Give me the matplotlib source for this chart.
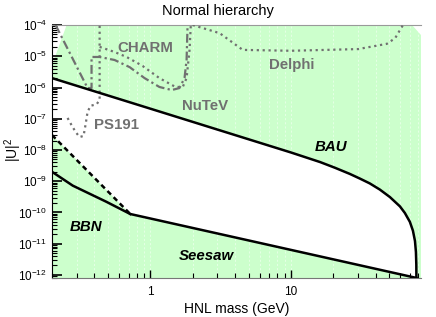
import numpy as np
import matplotlib
matplotlib.use("Agg")
import matplotlib.pyplot as plt
from matplotlib.ticker import LogLocator, FixedLocator, FixedFormatter, NullFormatter

plt.rcParams['font.family'] = ['Liberation Sans', 'DejaVu Sans']

## BAU upper bound (GeV, |U|^2)
bau_m = [0.2, 1.0, 10, 16.1, 20.5, 26.2, 30.8, 36.3, 42.8, 50.5, 59.5, 64.5, 70.0,
         73.6, 76.1, 77.3, 77.8, 77.9]
bau_u = [2.0e-6, 2.1e-7, 8.3e-9, 4.1e-9, 2.7e-9, 1.71e-9, 1.22e-9, 8.5e-10, 5.4e-10,
         3.1e-10, 1.56e-10, 9.6e-11, 5.0e-11, 2.6e-11, 1.22e-11, 5.4e-12, 2.1e-12, 8.0e-13]

## BBN lines
bbn_m = [0.2, 0.281, 0.486, 0.72]
bbn_u = [2.0e-9, 7.2e-10, 2.2e-10, 8.9e-11]
bbn_dash_m = [0.2, 0.72]
bbn_dash_u = [3.0e-8, 8.9e-11]

## Seesaw lower bound
seesaw_m = [0.72, 77.9]
seesaw_u = [8.9e-11, 8.0e-13]

## experimental bounds
ps191_m = [0.258, 0.275, 0.294, 0.314, 0.335, 0.346, 0.358, 0.376, 0.415, 0.436, 0.436]
ps191_u = [1.06e-7, 6.3e-8, 3.8e-8, 2.6e-8, 2.8e-8, 6.3e-8, 1.66e-7, 2.6e-7, 2.9e-7, 4.0e-7, 1e-4]

nutev_m = [0.212, 0.358, 0.382, 0.382, 0.436, 0.557, 0.712, 0.91, 1.16, 1.42, 1.61, 1.75, 1.81, 1.84]
nutev_u = [1e-4, 9.6e-7, 9.6e-7, 9.5e-6, 9.5e-6, 7.6e-6, 4.5e-6, 2.0e-6, 1.04e-6, 8.3e-7, 9.6e-7, 2.0e-6, 7.6e-6, 1e-4]

charm_m = [0.436, 0.557, 0.678, 0.881, 1.16, 1.51, 1.70, 1.81, 1.90, 1.94]
charm_u = [2.0e-5, 1.37e-5, 9.5e-6, 4.9e-6, 2.0e-6, 1.04e-6, 1.04e-6, 2.0e-6, 1.6e-5, 1e-4]

delphi_m = [2.0, 3.11, 4.54, 10, 30, 48, 55, 62.5]
delphi_u = [1e-4, 5.5e-5, 1.6e-5, 1.5e-5, 1.7e-5, 2.5e-5, 3.8e-5, 1e-4]

## white corners at the top
corner_tl_m = [0.2, 0.254, 0.2]
corner_tl_u = [1e-4, 1e-4, 5.2e-6]
corner_tr_m = [72.8, 84, 84]
corner_tr_u = [1e-4, 1e-4, 4.8e-5]

green = '#ccffcc'
gray = '#707070'

fig = plt.figure(figsize=(4.36, 3.17), dpi=100)
ax = fig.add_axes([0.1193, 0.123, 0.8463, 0.798])
ax.set_facecolor(green)
ax.set_xscale('log')
ax.set_yscale('log')
ax.set_xlim(0.2, 84)
ax.set_ylim(10**-12.1, 1e-4)

## white allowed region
wm = bau_m + seesaw_m[::-1] + bbn_dash_m[::-1]
wu = bau_u + seesaw_u[::-1] + bbn_dash_u[::-1]
ax.fill(wm, wu, color='white', lw=0, zorder=1)
ax.fill(corner_tl_m, corner_tl_u, color='white', lw=0, zorder=1)
ax.fill(corner_tr_m, corner_tr_u, color='white', lw=0, zorder=1)

ax.grid(True, which='both', axis='x', color='white', ls=(0, (3, 3)), lw=0.5, alpha=0.7)

## main lines
ax.plot(bau_m, bau_u, color='black', lw=1.8, zorder=4)
ax.plot(bbn_m, bbn_u, color='black', lw=1.8, zorder=4)
ax.plot(bbn_dash_m, bbn_dash_u, color='black', lw=1.8, ls=(0, (2, 1.5)), zorder=4)
ax.plot(seesaw_m, seesaw_u, color='black', lw=1.8, zorder=4)

## experiments
ax.plot(ps191_m, ps191_u, color=gray, lw=1.6, ls=':', zorder=3)
ax.plot(charm_m, charm_u, color=gray, lw=1.6, ls=':', zorder=3)
ax.plot(nutev_m, nutev_u, color=gray, lw=1.6, ls=(0, (4, 1.5, 1, 1.5)), zorder=3)
ax.plot(delphi_m, delphi_u, color=gray, lw=1.6, ls=':', zorder=3)

## labels
kw = dict(transform=ax.transAxes, ha='center', va='center', fontsize=10.8, fontweight='bold')
ax.text(0.252, 0.909, 'CHARM', color=gray, **kw)
ax.text(0.414, 0.680, 'NuTeV', color=gray, **kw)
ax.text(0.176, 0.605, 'PS191', color=gray, **kw)
ax.text(0.650, 0.842, 'Delphi', color=gray, **kw)
ax.text(0.756, 0.518, 'BAU', color='black', style='italic', **kw)
ax.text(0.092, 0.202, 'BBN', color='black', style='italic', **kw)
ax.text(0.417, 0.087, 'Seesaw', color='black', style='italic', **kw)

## axes style
ax.spines['right'].set_visible(False)
ax.spines['top'].set_color('#999999')
ax.spines['bottom'].set_color('#777777')
ax.spines['left'].set_color('black')

ax.yaxis.set_major_locator(LogLocator(base=10, numticks=20))
ax.yaxis.set_minor_locator(LogLocator(base=10, subs=np.arange(2, 10), numticks=20))
ax.yaxis.set_minor_formatter(NullFormatter())
ax.xaxis.set_major_locator(FixedLocator([1, 10]))
ax.xaxis.set_major_formatter(FixedFormatter(['1', '10']))
ax.xaxis.set_minor_locator(LogLocator(base=10, subs=np.arange(2, 10), numticks=20))
ax.xaxis.set_minor_formatter(NullFormatter())

ax.tick_params(axis='both', which='both', direction='in', colors='black', labelsize=8.5)
ax.tick_params(axis='y', which='major', length=7, width=1.2)
ax.tick_params(axis='y', which='minor', length=3.5, width=0.8)
ax.tick_params(axis='x', which='major', length=6, width=1.0, pad=6)
ax.tick_params(axis='x', which='minor', length=3.5, width=0.8)

ax.set_xlabel('HNL mass (GeV)', fontsize=10)
ax.xaxis.set_label_coords(0.501, -0.095)
ax.set_ylabel(r'$\mathregular{|U|^2}$', fontsize=10, va='center')
ax.yaxis.set_label_coords(-0.106, 0.506)
fig.text(0.5, 0.965, 'Normal hierarchy', fontsize=10.5, ha='center', va='center')

fig.savefig('out.png', dpi=100)
